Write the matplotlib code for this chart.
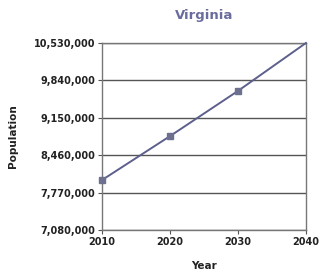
import matplotlib
matplotlib.use("Agg")
import matplotlib.pyplot as plt
from matplotlib.ticker import FuncFormatter

years = [2010, 2020, 2030, 2040]
population = [8001024, 8811512, 9645281, 10530229]
y_ticks = [7080000, 7770000, 8460000, 9150000, 9840000, 10530000]
x_ticks = [2010, 2020, 2030, 2040]

fig = plt.figure(figsize=(3.19, 2.74), dpi=100)
ax = fig.add_axes([0.320, 0.161, 0.639, 0.682])

line_col = "#5d5f8c"
ax.plot(years, population, color=line_col, lw=1.4, marker="s", ms=5, markevery=[0, 1, 2],
        markerfacecolor="#6e7090", markeredgecolor="#6e7090", clip_on=False, zorder=3)

ax.set_xlim(2010, 2040)
ax.set_ylim(7080000, 10530000)
ax.set_xticks(x_ticks)
ax.set_yticks(y_ticks)
ax.yaxis.set_major_formatter(FuncFormatter(lambda v, p: f"{int(round(v)):,}"))
ax.grid(axis="y", color="#555555", lw=1.0)
ax.set_axisbelow(True)
for s in ax.spines.values():
    s.set_color("#777777")
    s.set_linewidth(1.0)
ax.tick_params(axis="both", colors="#555555", labelcolor="#222222", length=3, width=0.8, labelsize=7, pad=2)
for lab in ax.get_xticklabels() + ax.get_yticklabels():
    lab.set_fontweight("bold")

ax.set_title("Virginia", fontsize=9.5, fontweight="bold", color="#6a6c9e", pad=17)
ax.set_xlabel("Year", fontsize=7.5, fontweight="bold", color="#222222", labelpad=10)
ax.set_ylabel("Population", fontsize=7.5, fontweight="bold", color="#222222", labelpad=11)

fig.savefig("out.png", dpi=100)
